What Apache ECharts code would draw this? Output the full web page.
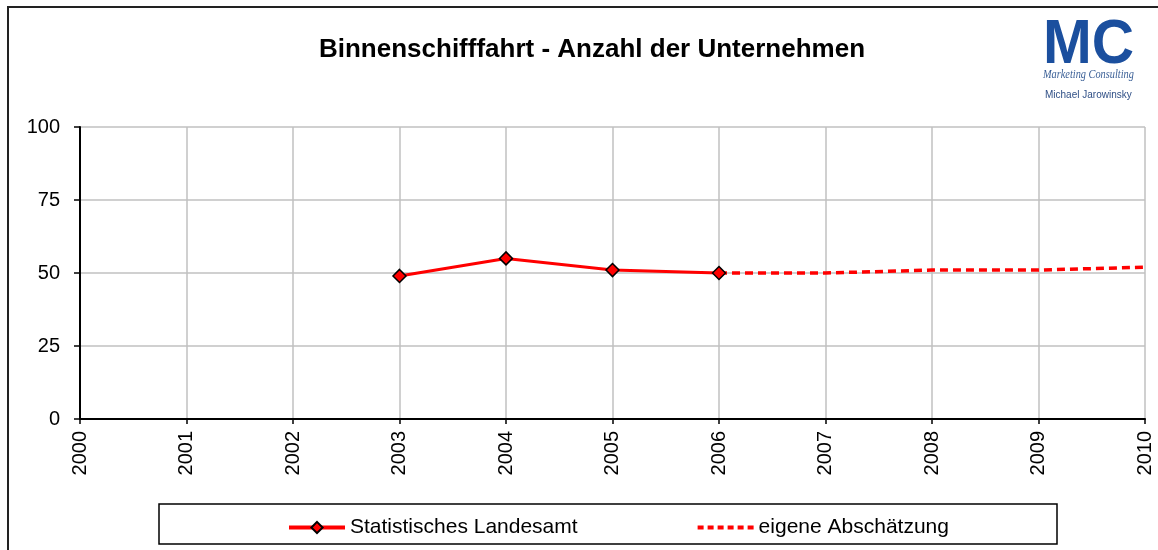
<!DOCTYPE html>
<html>
<head>
<meta charset="utf-8">
<script src="https://cdn.jsdelivr.net/npm/echarts@6/dist/echarts.min.js"></script>
<style>
  html, body { margin: 0; padding: 0; background: #fff; }
  #chart { width: 1158px; height: 550px; }
</style>
</head>
<body>
<div id="chart"></div>
<script>
let years = ['2000', '2001', '2002', '2003', '2004', '2005', '2006', '2007', '2008', '2009', '2010'];
let landesamt = [null, null, null, 49, 55, 51, 50, null, null, null, null];
let schaetzung = [null, null, null, null, null, null, 50, 50, 51, 51, 52];
let yTicks = [0, 25, 50, 75, 100];

let chart = echarts.init(document.getElementById('chart'), null, {
  renderer: 'canvas'
});

let option = {
  animation: false,
  backgroundColor: '#fff',
  textStyle: {
    fontFamily: 'Liberation Sans, Arial, sans-serif'
  },
  title: {
    text: 'Binnenschifffahrt - Anzahl der Unternehmen',
    left: 587,
    top: 32,
    textAlign: 'center',
    textStyle: {
      fontSize: 26,
      fontWeight: 'bold',
      color: '#000',
      fontFamily: 'Liberation Sans, Arial, sans-serif'
    }
  },
  graphic: [{
      type: 'rect',
      shape: { x: 8, y: 7, width: 1170, height: 560 },
      style: { fill: 'none', stroke: '#222', lineWidth: 2 },
      silent: true,
      z: -1
    },
    {
      type: 'rect',
      shape: { x: 159, y: 504, width: 898, height: 40 },
      style: { fill: '#fff', stroke: '#000', lineWidth: 1.5 },
      silent: true,
      z: 0
    },
    {
      type: 'text',
      x: 1043,
      y: 14,
      scaleX: 0.93,
      style: {
        text: 'MC',
        font: 'bold 63px Liberation Sans, Arial, sans-serif',
        fill: '#1b4f9e'
      }
    },
    {
      type: 'text',
      x: 1043,
      y: 69,
      scaleX: 0.86,
      style: {
        text: 'Marketing Consulting',
        font: 'italic 12px Liberation Serif, Times New Roman, serif',
        fill: '#3a5f96'
      }
    },
    {
      type: 'text',
      x: 1045,
      y: 90,
      style: {
        text: 'Michael Jarowinsky',
        font: '10px Liberation Sans, Arial, sans-serif',
        fill: '#2f4f86'
      }
    }
  ],
  legend: {
    left: 282,
    top: 512,
    z: 5,
    itemWidth: 56,
    itemHeight: 14,
    itemGap: 118,
    textStyle: {
      fontSize: 21,
      color: '#000',
      fontFamily: 'Liberation Sans, Arial, sans-serif'
    },
    data: [{
        name: 'Statistisches Landesamt',
        lineStyle: { width: 4 }
      },
      {
        name: 'eigene Abschätzung',
        itemStyle: { opacity: 0 },
        lineStyle: { width: 4, type: [6, 4] }
      }
    ]
  },
  grid: {
    left: 80,
    right: 13,
    top: 127,
    bottom: 131,
    containLabel: false
  },
  xAxis: {
    type: 'category',
    data: years,
    boundaryGap: false,
    axisLine: { lineStyle: { color: '#000', width: 2 } },
    axisTick: { show: true, alignWithLabel: true, length: 5, lineStyle: { color: '#000', width: 1.5 } },
    axisLabel: {
      rotate: 90,
      margin: 12,
      fontSize: 20,
      color: '#000',
      fontFamily: 'Liberation Sans, Arial, sans-serif'
    },
    splitLine: { show: true, lineStyle: { color: '#c0c0c0', width: 1.5 } }
  },
  yAxis: {
    type: 'value',
    min: yTicks[0],
    max: yTicks[yTicks.length - 1],
    interval: 25,
    axisLine: { show: true, lineStyle: { color: '#000', width: 2 } },
    axisTick: { show: true, length: 6, lineStyle: { color: '#000', width: 1.5 } },
    axisLabel: {
      margin: 20,
      fontSize: 20,
      color: '#000',
      fontFamily: 'Liberation Sans, Arial, sans-serif'
    },
    splitLine: { show: true, lineStyle: { color: '#c0c0c0', width: 1.5 } }
  },
  series: [{
      name: 'Statistisches Landesamt',
      type: 'line',
      data: landesamt,
      z: 4,
      symbol: 'diamond',
      symbolSize: 13,
      showAllSymbol: true,
      lineStyle: { color: '#ff0000', width: 3 },
      itemStyle: { color: '#ff0000', borderColor: '#000', borderWidth: 1.5 }
    },
    {
      name: 'eigene Abschätzung',
      type: 'line',
      data: schaetzung,
      z: 3,
      symbol: 'none',
      lineStyle: { color: '#ff0000', width: 3.5, type: [8, 5] },
      itemStyle: { color: '#ff0000' }
    }
  ]
};

chart.setOption(option);
</script>
</body>
</html>
